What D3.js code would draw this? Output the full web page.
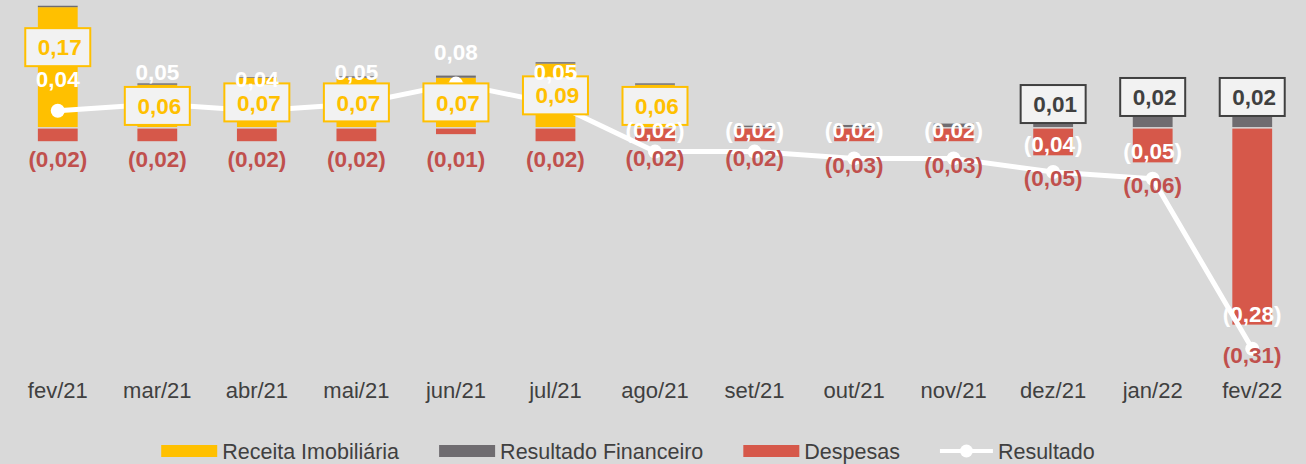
<!DOCTYPE html>
<html>
<head>
<meta charset="utf-8">
<script src="https://cdn.jsdelivr.net/npm/d3@7"></script>
<style>
    html, body { margin: 0; padding: 0; background: #d9d9d9; }
    svg { display: block; font-family: 'Liberation Sans', Arial, sans-serif; }
</style>
</head>
<body>
<div id="chart"></div>
<script>
'use strict';

// Data
const months = ['fev/21', 'mar/21', 'abr/21', 'mai/21', 'jun/21', 'jul/21', 'ago/21',
    'set/21', 'out/21', 'nov/21', 'dez/21', 'jan/22', 'fev/22'];
const receita = [0.17, 0.06, 0.07, 0.07, 0.07, 0.09, 0.06, 0, 0, 0, 0, 0, 0];
const financeiro = [0.002, 0.002, 0.001, 0.002, 0.003, 0.002, 0.002, 0.002, 0.003, 0.005, 0.01, 0.02, 0.02];
const despesas = [-0.02, -0.02, -0.02, -0.02, -0.01, -0.02, -0.02, -0.02, -0.02, -0.02, -0.04, -0.05, -0.28];
const resultado = [0.04, 0.05, 0.04, 0.05, 0.08, 0.05, -0.02, -0.02, -0.03, -0.03, -0.05, -0.06, -0.31];
const seriesNames = ['Receita Imobiliária', 'Resultado Financeiro', 'Despesas', 'Resultado'];

/*
Stacked result chart
 */
class ResultChart {

    // Elements
    svg = null;
    g = null;

    // Configs
    svgW = 1306;
    svgH = 464;
    boxW = 65;
    boxH = 38;
    colors = {
        receita: '#ffc000',
        financeiro: '#6f6c70',
        despesas: '#d6584a',
        resultado: '#ffffff',
        redText: '#c0504d',
        darkText: '#404040'
    };

    // Tools
    xScale = d3.scaleBand()
        .range([8, 1302])
        .paddingInner(0.6)
        .paddingOuter(0.3);
    yBar = d3.scaleLinear()
        .domain([-0.35, 0.2])
        .range([374, -14]);
    yLine = d3.scaleLinear()
        .domain([-0.35, 0.2])
        .range([376, 2]);
    locale = d3.formatLocale({decimal: ',', thousands: '.', grouping: [3], currency: ['R$', '']});
    fmt = this.locale.format('.2f');

    constructor(_target) {
        this.target = _target;
        this.init();
    }

    label(v) {
        return v < 0 ? `(${this.fmt(-v)})` : this.fmt(v);
    }

    /*
    1. Init
     */
    init() {
        const vis = this;

        vis.svg = d3.select(`#${vis.target}`)
            .append('svg')
            .attr('width', vis.svgW)
            .attr('height', vis.svgH);
        vis.g = vis.svg.append('g');

        vis.barsG = vis.g.append('g').attr('class', 'barsG');
        vis.lineG = vis.g.append('g').attr('class', 'lineG');
        vis.labelsG = vis.g.append('g').attr('class', 'labelsG');
        vis.axisG = vis.g.append('g').attr('class', 'axisG');
        vis.legendG = vis.g.append('g').attr('class', 'legendG');

        vis.wrangle();
    }

    /*
    2. Wrangle
     */
    wrangle() {
        const vis = this;

        vis.table = months.map((m, i) => ({
            month: m,
            receita: receita[i],
            financeiro: financeiro[i],
            despesas: despesas[i],
            resultado: resultado[i]
        }));

        vis.xScale.domain(months);
        vis.stacked = d3.stack()
            .keys(['receita', 'financeiro', 'despesas'])
            .offset(d3.stackOffsetDiverging)(vis.table);

        // Label layout
        const bw = vis.xScale.bandwidth();
        const y0 = vis.yBar(0);
        vis.labels = vis.table.map(d => {
            const cx = vis.xScale(d.month) + bw / 2;
            const recTop = vis.yBar(d.receita);
            const finTop = vis.yBar(d.receita + d.financeiro);
            const despBottom = vis.yBar(d.despesas);
            const py = vis.yLine(d.resultado);
            const out = {cx: cx, texts: []};

            if (d.receita > 0) {
                const cy = (y0 - recTop > 80) ? recTop + 40 : (recTop + y0) / 2;
                out.box = {cy: cy, value: d.receita, stroke: vis.colors.receita, fill: vis.colors.receita};
            } else if (d.financeiro >= 0.01) {
                out.box = {cy: finTop - vis.boxH / 2 + 3, value: d.financeiro, stroke: vis.colors.darkText, fill: vis.colors.darkText};
            }

            if (d.resultado >= 0) {
                let cy = py - 32;
                if (out.box) {
                    const top = out.box.cy - vis.boxH / 2;
                    const bottom = out.box.cy + vis.boxH / 2;
                    if (cy + 9 > top + 5 && cy - 9 < bottom) cy = top - 16;
                }
                out.texts.push({cy: cy, value: d.resultado, fill: '#ffffff'});
                out.texts.push({cy: Math.max(despBottom, vis.yBar(-0.02)) + 18, value: d.despesas, fill: vis.colors.redText});
            } else {
                out.texts.push({cy: despBottom - 11, value: d.despesas, fill: '#ffffff'});
                out.texts.push({cy: py + 6, value: d.resultado, fill: vis.colors.redText});
            }
            return out;
        });

        vis.render();
    }

    /*
    3. Render
     */
    render() {
        const vis = this;
        const bw = vis.xScale.bandwidth();

        // Bars
        vis.barsG.selectAll('.layer')
            .data(vis.stacked)
            .join('g')
            .attr('class', 'layer')
            .attr('fill', s => vis.colors[s.key])
            .selectAll('rect')
            .data(s => s)
            .join('rect')
            .attr('x', d => vis.xScale(d.data.month))
            .attr('width', bw)
            .attr('y', d => {
                const a = vis.yBar(Math.max(d[0], d[1]));
                return d[1] <= 0 ? a + 1.5 : a;
            })
            .attr('height', d => {
                const h = Math.abs(vis.yBar(d[0]) - vis.yBar(d[1]));
                return d[1] <= 0 ? Math.max(0, h - 1.5) : h;
            });

        // Line
        const lineMaker = d3.line()
            .x(d => vis.xScale(d.month) + bw / 2)
            .y(d => vis.yLine(d.resultado));
        vis.lineG.append('path')
            .datum(vis.table)
            .attr('fill', 'none')
            .attr('stroke', vis.colors.resultado)
            .attr('stroke-width', 5)
            .attr('stroke-linejoin', 'round')
            .attr('d', lineMaker);
        vis.lineG.selectAll('circle')
            .data(vis.table)
            .join('circle')
            .attr('cx', d => vis.xScale(d.month) + bw / 2)
            .attr('cy', d => vis.yLine(d.resultado))
            .attr('r', 7)
            .attr('fill', vis.colors.resultado);

        // Labels
        vis.labelsG.selectAll('.lab')
            .data(vis.labels)
            .join('g')
            .attr('class', 'lab')
            .each(function(d) {
                const lab = d3.select(this);
                if (d.box) {
                    lab.append('rect')
                        .attr('x', d.cx - vis.boxW / 2)
                        .attr('y', d.box.cy - vis.boxH / 2)
                        .attr('width', vis.boxW)
                        .attr('height', vis.boxH)
                        .attr('fill', '#f2f2f2')
                        .attr('stroke', d.box.stroke)
                        .attr('stroke-width', 2);
                    lab.append('text')
                        .attr('x', d.cx + 2)
                        .attr('y', d.box.cy)
                        .attr('dy', '0.36em')
                        .attr('text-anchor', 'middle')
                        .attr('font-size', '22.5px')
                        .attr('font-weight', 'bold')
                        .attr('fill', d.box.fill)
                        .text(vis.label(d.box.value));
                }
                lab.selectAll('.t')
                    .data(d.texts)
                    .join('text')
                    .attr('class', 't')
                    .attr('x', d.cx)
                    .attr('y', t => t.cy)
                    .attr('dy', '0.36em')
                    .attr('text-anchor', 'middle')
                    .attr('font-size', '22.5px')
                    .attr('font-weight', 'bold')
                    .attr('fill', t => t.fill)
                    .text(t => vis.label(t.value));
            });

        // Axis
        vis.axisG
            .attr('transform', 'translate(0, 398)')
            .call(d3.axisBottom(vis.xScale).tickSize(0).tickPadding(0));
        vis.axisG.select('.domain').remove();
        vis.axisG.selectAll('text')
            .attr('y', 0)
            .attr('dy', null)
            .attr('font-family', "'Liberation Sans', Arial, sans-serif")
            .attr('font-size', '22px')
            .attr('fill', vis.colors.darkText);

        // Legend
        const legendKeys = ['receita', 'financeiro', 'despesas', 'resultado'];
        const items = vis.legendG.selectAll('.item')
            .data(legendKeys)
            .join('g')
            .attr('class', 'item');
        items.each(function(k, i) {
            const item = d3.select(this);
            if (k === 'resultado') {
                item.append('line')
                    .attr('x1', 0).attr('x2', 53)
                    .attr('y1', 451).attr('y2', 451)
                    .attr('stroke', vis.colors.resultado)
                    .attr('stroke-width', 4);
                item.append('circle')
                    .attr('cx', 26.5).attr('cy', 451).attr('r', 6.5)
                    .attr('fill', vis.colors.resultado);
            } else {
                item.append('rect')
                    .attr('x', 0).attr('y', 445)
                    .attr('width', 56).attr('height', 12)
                    .attr('fill', vis.colors[k]);
            }
            item.append('text')
                .attr('x', k === 'resultado' ? 58 : 61)
                .attr('y', 459)
                .attr('font-size', '21.5px')
                .attr('fill', vis.colors.darkText)
                .text(seriesNames[i]);
        });
        const widths = [];
        items.each(function() { widths.push(this.getBBox().width); });
        const total = d3.sum(widths) + 40 * (widths.length - 1);
        let xPos = 628 - total / 2;
        items.attr('transform', (k, i) => {
            const t = `translate(${xPos}, 0)`;
            xPos += widths[i] + 40;
            return t;
        });
    }
}

new ResultChart('chart');
</script>
</body>
</html>
